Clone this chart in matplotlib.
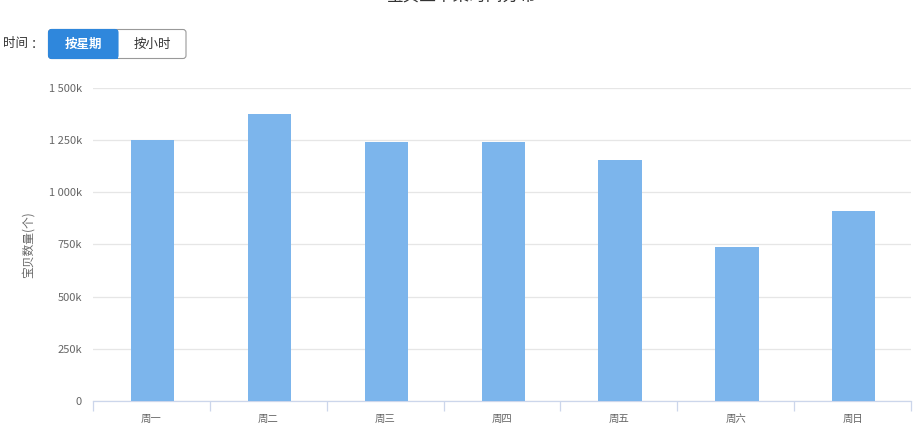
import matplotlib
matplotlib.use("Agg")
import matplotlib.pyplot as plt
from matplotlib.patches import FancyBboxPatch, Rectangle

plt.rcParams['font.family'] = ['Noto Sans CJK SC', 'DejaVu Sans']

# ---- data ----
categories = ['周一', '周二', '周三', '周四', '周五', '周六', '周日']
values = [1252000, 1375000, 1243000, 1243000, 1155000, 737000, 910000]
y_ticks = [0, 250000, 500000, 750000, 1000000, 1250000, 1500000]
y_tick_labels = ['0', '250k', '500k', '750k', '1 000k', '1 250k', '1 500k']
title = '宝贝上下架时间分布'
y_label = '宝贝数量(个)'

W, H = 923, 432
fig = plt.figure(figsize=(W / 100, H / 100), dpi=100)

# plot area in pixels
left, right, top, bottom = 93, 911, 88, 401
ax = fig.add_axes([left / W, 1 - bottom / H, (right - left) / W, (bottom - top) / H])

x = list(range(len(categories)))
ax.bar([i + 0.01 for i in x], values, width=0.37, color='#7cb5ec', zorder=3)
ax.set_xlim(-0.5, len(categories) - 0.5)
ax.set_ylim(0, 1500000)

ax.set_yticks(y_ticks)
ax.set_yticklabels(y_tick_labels)
ax.grid(axis='y', color='#e6e6e6', linewidth=0.9, zorder=0)
ax.set_axisbelow(True)

ax.set_xticks(x)
ax.set_xticklabels(categories)
ax.set_xticks([i - 0.5 for i in range(len(categories) + 1)], minor=True)
ax.tick_params(axis='x', which='major', length=0, pad=9, labelsize=7.5, labelcolor='#666666')
ax.tick_params(axis='x', which='minor', length=7.5, width=0.9, color='#ccd6eb', direction='out')
ax.tick_params(axis='y', length=0, pad=8, labelsize=8, labelcolor='#666666')

for s in ['top', 'right', 'left']:
    ax.spines[s].set_visible(False)
ax.spines['bottom'].set_color('#ccd6eb')
ax.spines['bottom'].set_linewidth(0.9)

ax.set_ylabel(y_label, fontsize=8.5, color='#666666')
ax.yaxis.set_label_coords(-(left - 35) / (right - left), 0.5)

# overlay for title and buttons (pixel coordinates)
ov = fig.add_axes([0, 0, 1, 1], zorder=5)
ov.set_xlim(0, W)
ov.set_ylim(H, 0)
ov.axis('off')

ov.text(W / 2, -3.5, title, ha='center', va='center', fontsize=12, color='#333333')

ov.text(3, 44, '时间', ha='left', va='center', fontsize=9, color='#333333')
ov.text(37, 44, '：', ha='center', va='center', fontsize=9, color='#333333')
outer = FancyBboxPatch((48.5, 29.5), 137.5, 29, boxstyle='round,pad=0,rounding_size=3',
                       facecolor='white', edgecolor='#999999', linewidth=0.8)
ov.add_patch(outer)
blue = FancyBboxPatch((48.5, 29.5), 69.5, 29, boxstyle='round,pad=0,rounding_size=3',
                      facecolor='#2f87dc', edgecolor='#2f87dc', linewidth=0.8)
ov.add_patch(blue)
ov.add_patch(Rectangle((110, 29.5), 8, 29, facecolor='#2f87dc', edgecolor='none'))
ov.text(83, 44, '按星期', ha='center', va='center', fontsize=9, color='white', fontweight='bold')
ov.text(152, 44, '按小时', ha='center', va='center', fontsize=9, color='#333333')

fig.savefig('out.png', dpi=100)
